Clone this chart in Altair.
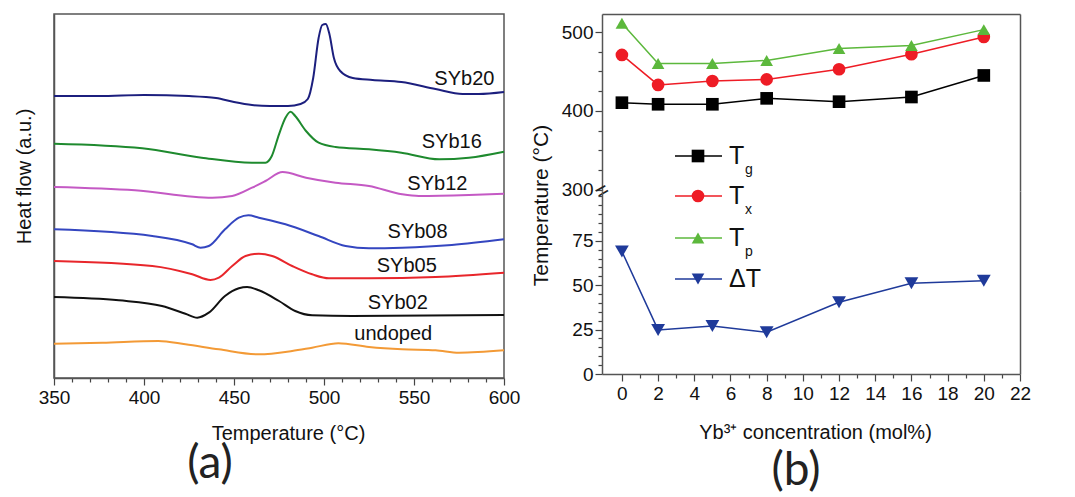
import altair as alt
import pandas as pd

FONT = "Liberation Sans"

# ---------------- (a) DSC curves ----------------
samples = ["SYb20", "SYb16", "SYb12", "SYb08", "SYb05", "SYb02", "undoped"]
sample_colors = ["#1c1f7e", "#1e8a2e", "#c459c4", "#3446c0", "#e8262b", "#111111", "#f39a36"]

s20_T = [350, 375, 400, 425, 440, 450, 460, 470, 480, 487, 491, 494, 497, 499, 501, 503, 505.5, 509, 516, 527, 543, 562, 577, 586, 600]
s20_H = [282, 282, 283, 282, 280, 276, 273, 272, 272, 274, 279, 300, 340, 353, 354, 344, 320, 307, 300, 298, 296, 289, 284, 284, 286]
s16_T = [350, 399, 432, 460, 467.5, 471, 475, 478.6, 481.4, 484, 490, 497, 506.4, 525, 543, 564, 580.5, 600]
s16_H = [234.3, 229.7, 220.3, 215.3, 215.3, 222, 243.7, 260.3, 266.3, 262, 247, 235.3, 231, 228.7, 225.3, 218.7, 220.3, 226.3]
s12_T = [350, 395, 438, 449, 460, 467.5, 477, 490, 506.4, 525, 543.4, 552.7, 580.5, 600]
s12_H = [191, 187.7, 180.3, 182, 190.3, 197, 206, 200.3, 195.3, 192, 183.7, 182, 183, 184.3]
s08_T = [350, 404.6, 426.8, 431.4, 436, 445, 452.7, 458, 463.8, 478.6, 497, 512, 525, 543.4, 571, 600]
s08_H = [148.7, 142, 133.7, 130.3, 132, 148.7, 160.3, 162.7, 160.3, 153.7, 142, 132, 129.7, 130.3, 133, 138.7]
s05_T = [350, 404.6, 426.8, 437, 441.6, 449, 456.4, 463.8, 471.2, 482.3, 493.4, 502.7, 525, 562, 600]
s05_H = [117, 112, 103.7, 98, 100.3, 112, 122, 124.3, 122, 112, 103.7, 99.7, 99.7, 101, 105.3]
s02_T = [350, 386, 410, 423, 429.6, 436, 445, 452.7, 457.3, 463.8, 475, 484, 493.4, 515.7, 600]
s02_H = [81, 77.7, 72, 64.3, 60.3, 65.3, 82, 89.7, 91, 87.7, 77, 67, 62.7, 62, 63]
und_T = [350, 376.8, 408, 423, 441.6, 463.8, 482.3, 493.4, 508, 525, 543.4, 562, 575, 600]
und_H = [34.3, 35.3, 37, 33.7, 28.7, 23.7, 27, 30.3, 34.7, 31, 28.7, 27.7, 25.3, 27.7]

label_T = [578, 571, 563, 552, 546, 541, 538.5]
label_H = [299, 236.5, 194, 146, 112.5, 75, 44]
x_ticks_a = list(range(350, 601, 10))

# ---------------- (b) characteristic temperatures ----------------
conc = [0, 2, 5, 8, 12, 16, 20]
Tg = [410.5, 408.5, 408.5, 416, 411.8, 417.7, 445]
Tx = [471, 433, 438, 440, 452.8, 471.8, 493.7]
Tp = [511, 460, 460, 464, 479, 483, 503]
dT = [69, 24.8, 27, 23.5, 40.4, 51.1, 52.5]

series_b = ["Tg", "Tx", "Tp", "dT"]
series_colors = ["#000000", "#ee1c25", "#5cb83c", "#1f3a9a"]
series_shapes = ["square", "circle", "triangle-up", "triangle-down"]
series_main = ["T", "T", "T", "\u0394T"]
series_sub = ["g", "x", "p", ""]
x_ticks_b = list(range(0, 23))
y_ticks_up = list(range(300, 501, 25))
y_ticks_lo = list(range(0, 101, 5))

# ---------------- data frames ----------------
rows = []
for name, Ts, Hs in zip(samples,
                        [s20_T, s16_T, s12_T, s08_T, s05_T, s02_T, und_T],
                        [s20_H, s16_H, s12_H, s08_H, s05_H, s02_H, und_H]):
    for t, h in zip(Ts, Hs):
        rows.append({"sample": name, "T": t, "H": h})
dsc = pd.DataFrame(rows)
labels_df = pd.DataFrame({"sample": samples, "T": label_T, "H": label_H})

brows = []
for name, vals in zip(series_b, [Tg, Tx, Tp, dT]):
    for c, v in zip(conc, vals):
        brows.append({"series": name, "conc": c, "value": v})
bdf = pd.DataFrame(brows)
up_df = bdf[bdf["series"].isin(["Tg", "Tx", "Tp"])]
lo_df = bdf[bdf["series"] == "dT"]


def cond_tick(test, major, minor):
    return {"condition": {"test": test, "value": major}, "value": minor}


# ---------------- panel (a) ----------------
xa_scale = alt.Scale(domain=[350, 600], nice=False, zero=False)
ya_scale = alt.Scale(domain=[0, 364], nice=False, zero=False)
xa_axis = alt.Axis(values=x_ticks_a, labelExpr="datum.value % 50 === 0 ? datum.label : ''",
                   tickSize=cond_tick("datum.value % 50 === 0", 7, 4),
                   labelFlush=False, labelOverlap=False, labelPadding=3,
                   title="Temperature (\u00b0C)", titleX=234, titleY=55,
                   titleBaseline="middle", titleAlign="center")
ya_axis = alt.Axis(labels=False, ticks=False, title="Heat flow (a.u.)",
                   titleX=-30, titleY=162, titleAngle=270,
                   titleAlign="center", titleBaseline="middle")

xa = alt.X("T:Q", scale=xa_scale, axis=xa_axis)
ya = alt.Y("H:Q", scale=ya_scale, axis=ya_axis)

lines_a = alt.Chart(dsc).mark_line(interpolate="monotone", strokeWidth=2).encode(
    x=xa, y=ya,
    color=alt.Color("sample:N", scale=alt.Scale(domain=samples, range=sample_colors), legend=None),
)
text_a = alt.Chart(labels_df).mark_text(font=FONT, fontSize=20, color="#111").encode(
    x=xa, y=ya, text="sample:N",
)
tag_a = alt.Chart(pd.DataFrame({"t": ["(a)"]})).mark_text(
    font="Lato", fontSize=46, color="#222").encode(
    text="t:N", x=alt.value(156), y=alt.value(450))

panel_a = alt.layer(lines_a, text_a, tag_a,
                    view=alt.ViewBackground(stroke="#555", strokeWidth=1.5)
                    ).properties(width=450, height=364)

# ---------------- panel (b) ----------------
xb_scale = alt.Scale(domain=[-1.1, 22], nice=False, zero=False)
color_b = alt.Scale(domain=series_b, range=series_colors)
shape_b = alt.Scale(domain=series_b, range=series_shapes)


def frame_axis(orient):
    return alt.Axis(orient=orient, labels=False, ticks=False, title=None, domain=True)


y_up_scale = alt.Scale(domain=[298.7, 522.8], nice=False, zero=False)
y_up_axis = alt.Axis(values=y_ticks_up, labelExpr="datum.value % 100 === 0 ? datum.label : ''",
                     tickSize=cond_tick("datum.value % 100 === 0", 7, 4),
                     labelOverlap=False, title=None)

x_top = alt.X("conc:Q", scale=xb_scale, axis=frame_axis("top"))

up_line = alt.Chart(up_df).mark_line(strokeWidth=1.5).encode(
    x=x_top,
    y=alt.Y("value:Q", scale=y_up_scale, axis=y_up_axis),
    color=alt.Color("series:N", scale=color_b, legend=None),
)
up_pts = alt.Chart(up_df).mark_point(filled=True, size=160, opacity=1).encode(
    x=x_top,
    y=alt.Y("value:Q", scale=y_up_scale, axis=None),
    color=alt.Color("series:N", scale=color_b, legend=None),
    shape=alt.Shape("series:N", scale=shape_b, legend=None),
)
up_right = alt.Chart(up_df).mark_point(opacity=0).encode(
    x=x_top,
    y=alt.Y("value:Q", scale=y_up_scale, axis=frame_axis("right")),
)
brk = alt.Chart(pd.DataFrame({"t": ["="]})).mark_text(
    font=FONT, fontSize=22, angle=330, color="#222").encode(
    text="t:N", x=alt.value(0), y=alt.value(177))

upper = alt.layer(up_line, up_pts, up_right, brk).resolve_axis(y="independent").properties(
    width=418, height=177)

y_lo_scale = alt.Scale(domain=[0, 103], nice=False, zero=False)
x_bot_axis = alt.Axis(values=x_ticks_b, labelExpr="datum.value % 2 === 0 ? datum.label : ''",
                      tickSize=cond_tick("datum.value % 2 === 0", 7, 4),
                      labelFlush=False, labelOverlap=False, labelPadding=3,
                      title="Yb\u00b3\u207a concentration (mol%)", titleX=213, titleY=58,
                      titleBaseline="middle", titleAlign="center")
y_lo_axis = alt.Axis(values=y_ticks_lo,
                     labelExpr="datum.value % 25 === 0 && datum.value < 100 ? datum.label : ''",
                     tickSize=cond_tick("datum.value % 25 === 0 && datum.value < 100", 7, 4),
                     labelOverlap=False,
                     title="Temperature (\u00b0C)", titleX=-61, titleY=14, titleAngle=270,
                     titleAlign="center", titleBaseline="middle", titleFontSize=21)

x_bot = alt.X("conc:Q", scale=xb_scale, axis=x_bot_axis)

lo_line = alt.Chart(lo_df).mark_line(strokeWidth=1.5).encode(
    x=x_bot,
    y=alt.Y("value:Q", scale=y_lo_scale, axis=y_lo_axis),
    color=alt.Color("series:N", scale=color_b, legend=None),
)
lo_pts = alt.Chart(lo_df).mark_point(filled=True, size=190, opacity=1).encode(
    x=x_bot,
    y=alt.Y("value:Q", scale=y_lo_scale, axis=None),
    color=alt.Color("series:N", scale=color_b, legend=None),
    shape=alt.Shape("series:N", scale=shape_b, legend=None),
)
lo_right = alt.Chart(lo_df).mark_point(opacity=0).encode(
    x=x_bot,
    y=alt.Y("value:Q", scale=y_lo_scale, axis=frame_axis("right")),
)

leg_layers = []
leg_y = [-35, 5, 47, 88]
for name, col, shp, main, sub, yy in zip(series_b, series_colors, series_shapes,
                                         series_main, series_sub, leg_y):
    one = alt.Chart(pd.DataFrame({"main": [main], "sub": [sub]}))
    leg_layers.append(one.mark_rule(color=col, strokeWidth=1.5).encode(
        x=alt.value(73), x2=alt.value(120), y=alt.value(yy)))
    leg_layers.append(one.mark_point(shape=shp, filled=True, size=160, color=col, opacity=1).encode(
        x=alt.value(96), y=alt.value(yy)))
    leg_layers.append(one.mark_text(align="left", baseline="middle", font=FONT, fontSize=25,
                                    color="#111").encode(
        text="main:N", x=alt.value(127), y=alt.value(yy)))
    if sub:
        leg_layers.append(one.mark_text(align="left", baseline="middle", font=FONT, fontSize=14,
                                        color="#111").encode(
            text="sub:N", x=alt.value(143), y=alt.value(yy + 14)))

tag_b = alt.Chart(pd.DataFrame({"t": ["(b)"]})).mark_text(
    font="Lato", fontSize=46, color="#222").encode(
    text="t:N", x=alt.value(194), y=alt.value(280))

lower = alt.layer(lo_line, lo_pts, lo_right, *leg_layers, tag_b).resolve_axis(
    y="independent").properties(width=418, height=183)

panel_b = alt.vconcat(upper, lower, spacing=0, bounds="flush")

chart = alt.hconcat(panel_a, panel_b, spacing=8).resolve_scale(
    color="independent", shape="independent"
).properties(
    padding={"left": 5, "top": 5, "right": 5, "bottom": 0}
).configure_view(stroke=None).configure_axis(
    labelFont=FONT, titleFont=FONT, labelFontSize=19, titleFontSize=20,
    labelColor="#111", titleColor="#111", titleFontWeight="normal",
    domainColor="#555", domainWidth=1.5, tickColor="#444", tickWidth=1.2, grid=False,
)

chart.save("out.html", embed_options={"renderer": "svg", "actions": False})
